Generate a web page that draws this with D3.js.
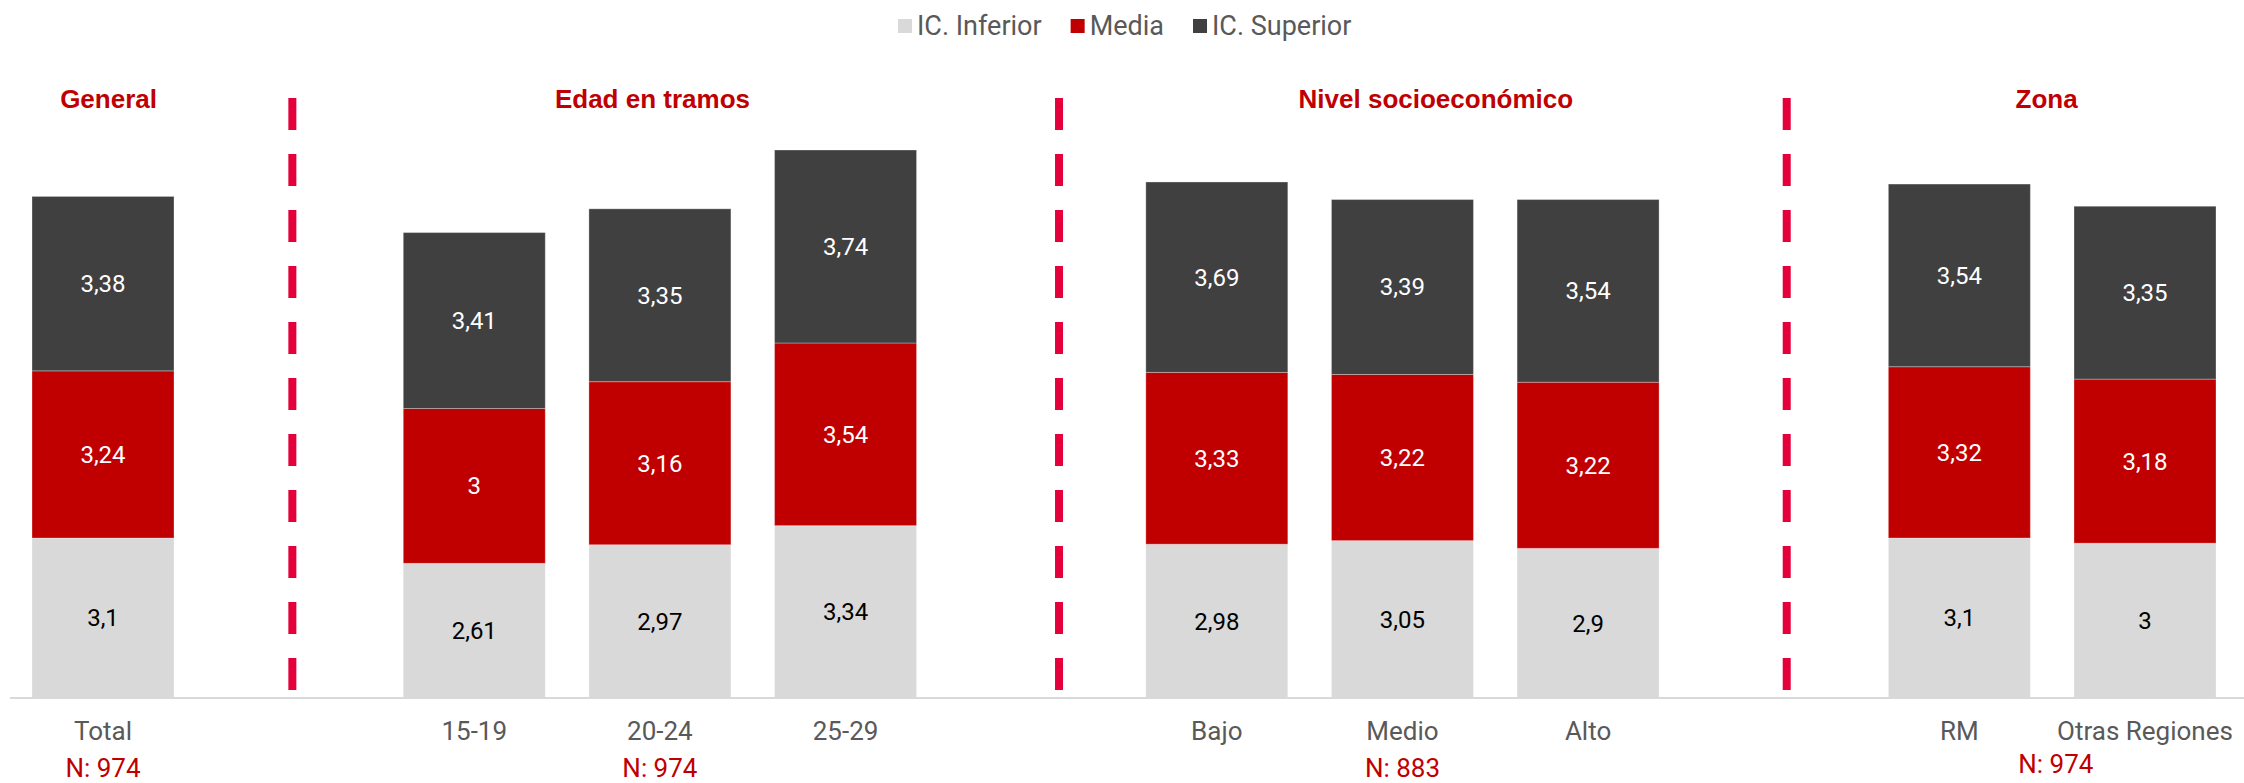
<!DOCTYPE html>
<meta charset="utf-8">
<head>
<title>Intervalos por segmento</title>
<style>
body { margin: 0; background: #fff; }
text { font-family: Roboto, "Liberation Sans", Arial, sans-serif; }
.header { font-family: "Liberation Sans", Arial, sans-serif; font-weight: bold; font-size: 26px; fill: #c00000; }
.cat-label { font-size: 26px; fill: #595959; }
.n-label { font-size: 26px; fill: #c00000; }
.legend-label { font-size: 27px; fill: #595959; }
.value-label { font-size: 24px; }
.separator { stroke: #e4003a; stroke-width: 8; stroke-dasharray: 32 24; }
.baseline { stroke: #d9d9d9; stroke-width: 2; }
</style>
</head>
<body>
<script src="https://cdn.jsdelivr.net/npm/d3@7"></script>
<div id="chart"></div>
<script>

// data
var categories = ["Total", "15-19", "20-24", "25-29", "Bajo", "Medio", "Alto", "RM", "Otras Regiones"];
var icInferior = [3.1, 2.61, 2.97, 3.34, 2.98, 3.05, 2.9, 3.1, 3];
var media = [3.24, 3, 3.16, 3.54, 3.33, 3.22, 3.22, 3.32, 3.18];
var icSuperior = [3.38, 3.41, 3.35, 3.74, 3.69, 3.39, 3.54, 3.54, 3.35];
var seriesNames = ["IC. Inferior", "Media", "IC. Superior"];
var groups = ["General", "Edad en tramos", "Nivel socioeconómico", "Zona"];
var groupSizes = ["N: 974", "N: 974", "N: 883", "N: 974"];

// layout (slot index along the x axis, gaps between groups)
var slots = ["Total", "g1", "15-19", "20-24", "25-29", "g2", "Bajo", "Medio", "Alto", "g3", "RM", "Otras Regiones"];
var headerAt = [0.03, 2.96, 7.18, 10.47];
var sizeAt = [0, 3, 7, 10.52];
var sizeY = [777, 777, 777, 773];
var separatorAt = [1.02, 5.15, 9.07];

var width = 2244,
    height = 783,
    baseY = 698,
    topY = 150,
    barW = 142;

var colors = ["#d9d9d9", "#c00000", "#404040"];
var textColors = ["#000", "#fff", "#fff"];

var svg = d3.select("#chart").append("svg")
    .attr("width", width)
    .attr("height", height);

var x = d3.scalePoint().domain(slots).range([103, 2145]);
var xs = d3.scaleLinear().domain([0, slots.length - 1]).range([103, 2145]);

var rows = categories.map(function (c, i) {
  return { cat: c, inf: icInferior[i], med: media[i], sup: icSuperior[i] };
});
var stack = d3.stack().keys(["inf", "med", "sup"]);
var layers = stack(rows);

var yMax = d3.max(rows, function (d) { return d.inf + d.med + d.sup; });
var y = d3.scaleLinear().domain([0, yMax]).range([baseY, topY]);

var fmt = function (v) { return String(v).replace(".", ","); };

// bars
var layer = svg.selectAll(".layer")
  .data(layers)
  .enter().append("g")
    .attr("class", "layer")
    .attr("fill", function (d, i) { return colors[i]; });

layer.selectAll("rect")
  .data(function (d) { return d; })
  .enter().append("rect")
    .attr("x", function (d) { return x(d.data.cat) - barW / 2; })
    .attr("y", function (d) { return y(d[1]); })
    .attr("width", barW)
    .attr("height", function (d) { return y(d[0]) - y(d[1]); })
    .attr("stroke", "#fff")
    .attr("stroke-opacity", 0.3)
    .attr("stroke-width", 1);

layer.selectAll("text")
  .data(function (d) { return d.map(function (p) { return { p: p, k: d.key, i: d.index }; }); })
  .enter().append("text")
    .attr("class", "value-label")
    .attr("x", function (d) { return x(d.p.data.cat); })
    .attr("y", function (d) { return (y(d.p[0]) + y(d.p[1])) / 2; })
    .attr("dy", "0.35em")
    .attr("text-anchor", "middle")
    .attr("fill", function (d) { return textColors[d.i]; })
    .text(function (d) { return fmt(d.p.data[d.k]); });

// base line
svg.append("line")
    .attr("class", "baseline")
    .attr("x1", 10).attr("x2", width)
    .attr("y1", baseY).attr("y2", baseY);

// category labels
svg.selectAll(".cat-label")
  .data(categories)
  .enter().append("text")
    .attr("class", "cat-label")
    .attr("x", function (d) { return x(d); })
    .attr("y", 740)
    .attr("text-anchor", "middle")
    .text(function (d) { return d; });

// separators
svg.selectAll(".separator")
  .data(separatorAt)
  .enter().append("line")
    .attr("class", "separator")
    .attr("x1", function (d) { return xs(d); })
    .attr("x2", function (d) { return xs(d); })
    .attr("y1", 98).attr("y2", 690);

// group headers
svg.selectAll(".header")
  .data(groups)
  .enter().append("text")
    .attr("class", "header")
    .attr("x", function (d, i) { return xs(headerAt[i]); })
    .attr("y", 108)
    .attr("text-anchor", "middle")
    .text(function (d) { return d; });

// sample sizes
svg.selectAll(".n-label")
  .data(groupSizes)
  .enter().append("text")
    .attr("class", "n-label")
    .attr("x", function (d, i) { return xs(sizeAt[i]); })
    .attr("y", function (d, i) { return sizeY[i]; })
    .attr("text-anchor", "middle")
    .text(function (d) { return d; });

// legend
var legend = svg.append("g").attr("class", "legend");
var lx = 898;
seriesNames.forEach(function (name, i) {
  legend.append("rect")
      .attr("x", lx).attr("y", 19)
      .attr("width", 14).attr("height", 14)
      .attr("fill", colors[i]);
  var t = legend.append("text")
      .attr("class", "legend-label")
      .attr("x", lx + 19)
      .attr("y", 35)
      .text(name);
  lx += 19 + t.node().getComputedTextLength() + 29;
});

</script>
</body>
